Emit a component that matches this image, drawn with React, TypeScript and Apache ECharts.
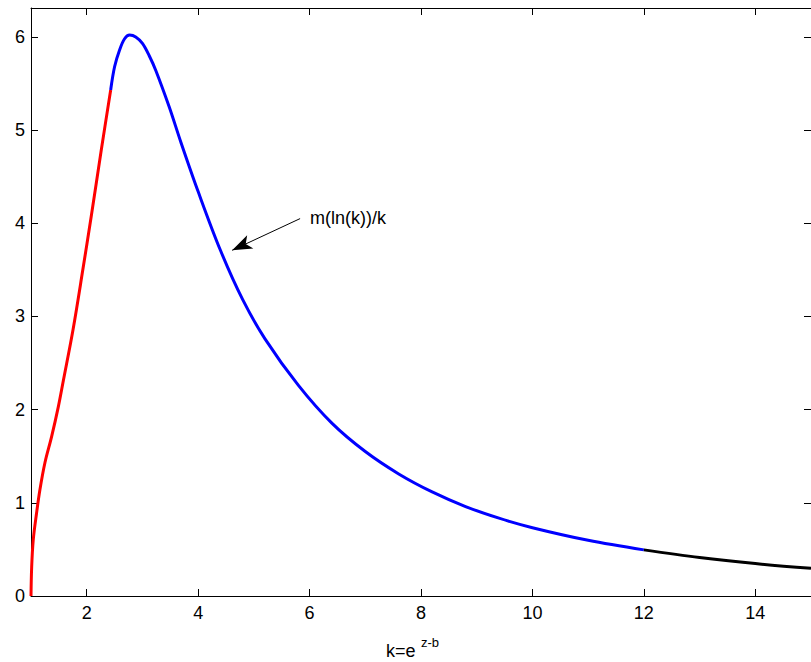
import React, { useEffect, useRef } from "react";
import * as echarts from "echarts";

// k values / m(ln k)/k values
const redSegment: [number, number][] = [
  [1, 0], [1.012, 0.31], [1.04, 0.6], [1.1, 0.89], [1.16, 1.14], [1.25, 1.43],
  [1.37, 1.71], [1.49, 2.03], [1.58, 2.31], [1.755, 2.86], [1.93, 3.5],
  [2.08, 4.07], [2.26, 4.78], [2.43, 5.43],
];
const blueSegment: [number, number][] = [
  [2.43, 5.43], [2.5, 5.68], [2.59, 5.86], [2.68, 5.98], [2.77, 6.02], [2.88, 6.0],
  [3.0, 5.93], [3.12, 5.8], [3.24, 5.64], [3.48, 5.25], [3.69, 4.87], [4.0, 4.34],
  [4.4, 3.71], [4.8, 3.18], [5.2, 2.76], [5.8, 2.26], [6.4, 1.855], [7.0, 1.55],
  [7.6, 1.31], [8.2, 1.117], [8.8, 0.96], [9.4, 0.835], [10, 0.733], [11, 0.598],
  [12, 0.495],
];
const blackSegment: [number, number][] = [
  [12, 0.495], [13, 0.413], [14, 0.348], [15, 0.297],
];
const xTicks = [2, 4, 6, 8, 10, 12, 14];
const yTicks = [0, 1, 2, 3, 4, 5, 6];
const xRange = [1, 15];
const yRange = [0, 6.31];
const annotationLabel = "m(ln(k))/k";
const arrowFrom = [5.83, 4.05];
const arrowTo = [4.61, 3.71];
const xTitleMain = "k=e";
const xTitleSup = "z-b";

const FONT = "'Liberation Sans', Arial, sans-serif";

export default function App() {
  const ref = useRef<HTMLDivElement>(null);
  useEffect(() => {
    if (!ref.current) return;
    const chart = echarts.init(ref.current, null, { renderer: "svg" });
    const axisLine = { show: true, onZero: false, lineStyle: { color: "#000", width: 1 } };
    const tick = (vals: number[]) => ({
      show: true,
      inside: true,
      length: 7,
      customValues: vals,
      lineStyle: { color: "#000", width: 1 },
    });
    const lineSeries = (data: [number, number][], color: string, extra: any = {}) => ({
      type: "line",
      data,
      showSymbol: false,
      symbol: "none",
      smooth: 0.35,
      lineStyle: { color, width: 3 },
      itemStyle: { color },
      silent: true,
      emphasis: { disabled: true },
      ...extra,
    });
    chart.setOption({
      animation: false,
      backgroundColor: "#fff",
      textStyle: { fontFamily: FONT },
      grid: { left: 31, top: 8, width: 782, height: 588, containLabel: false },
      xAxis: [
        {
          type: "value",
          min: xRange[0],
          max: xRange[1],
          position: "bottom",
          axisLine,
          axisTick: tick(xTicks),
          axisLabel: {
            show: true,
            customValues: xTicks,
            color: "#000",
            fontSize: 18,
            fontFamily: FONT,
            margin: 8,
          },
          splitLine: { show: false },
        },
        {
          type: "value",
          min: xRange[0],
          max: xRange[1],
          position: "top",
          axisLine,
          axisTick: tick(xTicks),
          axisLabel: { show: false },
          splitLine: { show: false },
        },
      ],
      yAxis: [
        {
          type: "value",
          min: yRange[0],
          max: yRange[1],
          position: "left",
          axisLine,
          axisTick: tick(yTicks),
          axisLabel: {
            show: true,
            customValues: yTicks,
            color: "#000",
            fontSize: 18,
            fontFamily: FONT,
            margin: 6,
          },
          splitLine: { show: false },
        },
        {
          type: "value",
          min: yRange[0],
          max: yRange[1],
          position: "right",
          axisLine,
          axisTick: tick(yTicks),
          axisLabel: { show: false },
          splitLine: { show: false },
        },
      ],
      series: [
        lineSeries(redSegment, "#ff0000"),
        lineSeries(blueSegment, "#0000ff", {
          markLine: {
            silent: true,
            animation: false,
            label: { show: false },
            emphasis: { disabled: true },
            lineStyle: { color: "#000", width: 1, type: "solid" },
            symbol: ["none", "arrow"],
            symbolSize: [1, [11, 20]],
            data: [
              [
                { coord: arrowFrom, symbol: "none" },
                { coord: arrowTo, symbol: "arrow", symbolSize: [11, 20] },
              ],
            ],
          },
        }),
        lineSeries(blackSegment, "#000000"),
      ],
      graphic: [
        {
          type: "text",
          left: 310,
          top: 209,
          silent: true,
          style: { text: annotationLabel, font: `18px ${FONT}`, fill: "#000" },
        },
        {
          type: "text",
          left: 386,
          top: 642,
          silent: true,
          style: { text: xTitleMain, font: `18px ${FONT}`, fill: "#000" },
        },
        {
          type: "text",
          left: 421,
          top: 636,
          silent: true,
          style: { text: xTitleSup, font: `13px ${FONT}`, fill: "#000" },
        },
      ],
    });
    return () => chart.dispose();
  }, []);
  return <div ref={ref} style={{ width: 811, height: 662, position: "absolute", left: 0, top: 0 }} />;
}
